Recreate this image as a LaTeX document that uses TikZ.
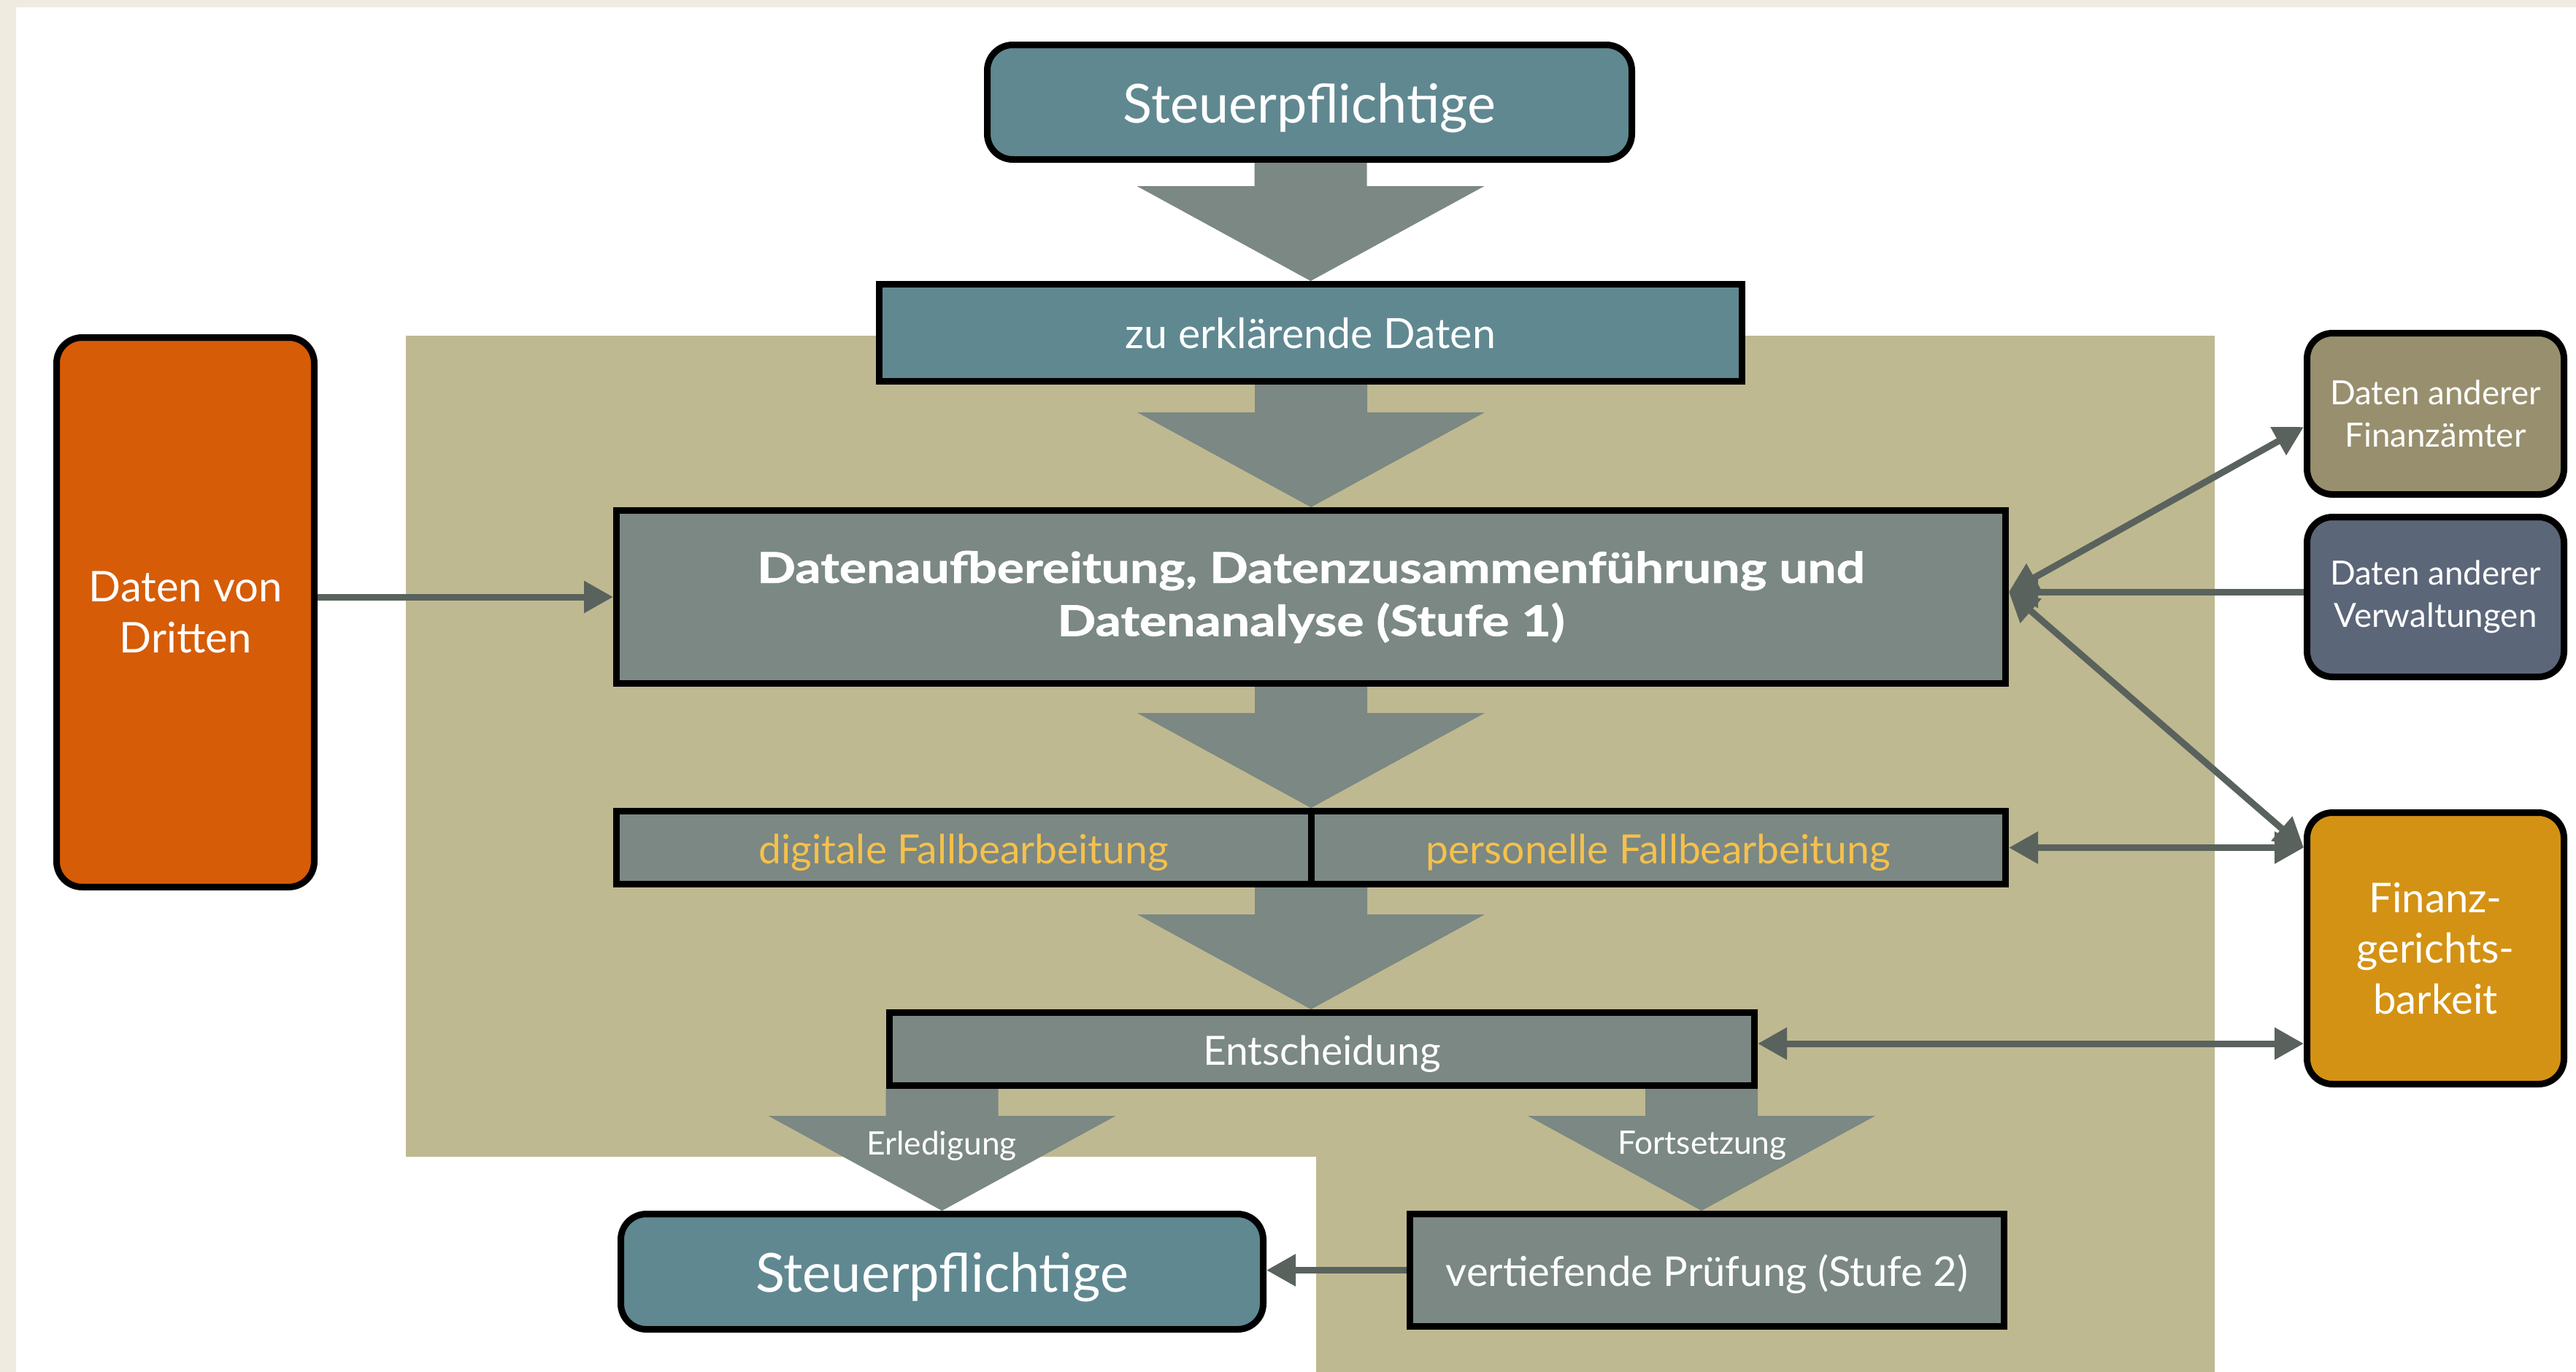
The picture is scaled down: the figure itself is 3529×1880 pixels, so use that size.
\documentclass[tikz,border=0pt]{standalone}
\usepackage{fontspec}
\setmainfont{Lato}
\newfontfamily\heavyfont[FakeStretch=1.2,FakeBold=1.2]{Lato}
\usetikzlibrary{arrows.meta,calc}

\definecolor{cCream}{RGB}{239,235,224}
\definecolor{cKhaki}{RGB}{191,185,145}
\definecolor{cTealBox}{RGB}{96,136,145}
\definecolor{cGrayBox}{RGB}{123,136,131}
\definecolor{cArrow}{RGB}{90,98,93}
\definecolor{cOrange}{RGB}{214,92,7}
\definecolor{cOlive}{RGB}{152,143,110}
\definecolor{cSlate}{RGB}{92,102,121}
\definecolor{cAmber}{RGB}{212,146,20}
\definecolor{cYellowText}{RGB}{245,192,76}

% wide grey block arrow from the bottom of one box to the top of the next
\newcommand\blockarrow[2]{%
  \path (#2 |- #1) coordinate (baS) (#2) coordinate (baT);
  \fill[cGrayBox] ($(baS)+(-77,0)$) -- ($(baT)+(-77,-130)$) -- ($(baT)+(-238,-130)$)
    -- (baT) -- ($(baT)+(238,-130)$) -- ($(baT)+(77,-130)$) -- ($(baS)+(77,0)$) -- cycle;}

\begin{document}
\begin{tikzpicture}[x=0.1mm,y=-0.1mm,
  box/.style={draw=black, line width=0.9mm, outer sep=0.45mm, inner sep=0pt,
    text=white, align=center},
  rbox/.style={box, rounded corners=3.5mm},
  bigtxt/.style={font=\fontsize{21}{25}\selectfont, text height=16pt, text depth=0pt},
  midtxt/.style={font=\fontsize{15.7}{19}\selectfont, text height=12.4pt, text depth=0pt},
  conn/.style={draw=cArrow, line width=0.9mm},
  >={Triangle[length=4mm,width=4.2mm]},
  lbl/.style={text=white, inner sep=0pt, font=\fontsize{12.6}{15}\selectfont}]

% canvas and background areas
\useasboundingbox (0,0) rectangle (3529,1880);
\fill[white] (0,0) rectangle (3529,1880);
\fill[cCream] (0,0) rectangle (22,1880);
\fill[cCream] (0,0) rectangle (3529,10);
\fill[cKhaki] (556,460) -- (3034,460) -- (3034,1880) -- (1803,1880)
  -- (1803,1585) -- (556,1585) -- cycle;

% boxes of the main flow
\node[rbox, bigtxt, fill=cTealBox, minimum width=88.3mm, minimum height=15.7mm]
  (st1) at (1794,140) {Steuerpflichtige};
\node[box, midtxt, fill=cTealBox, minimum width=118.2mm, minimum height=13.3mm,
  font=\fontsize{16.3}{19}\selectfont] (zed) at (1795.5,456) {zu erklärende Daten};
\node[box, fill=cGrayBox, minimum width=190.3mm, minimum height=23.7mm,
  font=\fontsize{16.5}{20.7}\selectfont\heavyfont\bfseries] (dab) at (1796,818)
  {Datenaufbereitung, Datenzusammenführung und\\Datenanalyse (Stufe 1)};
\node[box, midtxt, fill=cGrayBox, minimum width=95.15mm, minimum height=10mm,
  text=cYellowText] (dig) at (1320.25,1161.5) {digitale Fallbearbeitung};
\node[box, midtxt, fill=cGrayBox, minimum width=95.15mm, minimum height=10mm,
  text=cYellowText] (pers) at (2271.75,1161.5) {personelle Fallbearbeitung};
\node[box, midtxt, fill=cGrayBox, minimum width=118.5mm, minimum height=10mm]
  (ent) at (1811,1437.5) {Entscheidung};
\node[rbox, bigtxt, fill=cTealBox, minimum width=88mm, minimum height=15.8mm]
  (st2) at (1290.5,1742.5) {Steuerpflichtige};
\node[box, midtxt, fill=cGrayBox, minimum width=81.4mm, minimum height=15.4mm,
  font=\fontsize{16}{19}\selectfont] (vp) at (2338.5,1740.5)
  {vertiefende Prüfung (Stufe 2)};

% outside data sources and the fiscal courts
\node[rbox, fill=cOrange, minimum width=35.3mm, minimum height=75.3mm,
  font=\fontsize{16.5}{19.8}\selectfont] (ddr) at (254,839) {Daten von\\Dritten};
\node[rbox, fill=cOlive, minimum width=35.2mm, minimum height=22.1mm,
  font=\fontsize{13}{16.4}\selectfont] (dfa) at (3336.5,567)
  {Daten anderer\\Finanzämter};
\node[rbox, fill=cSlate, minimum width=35.2mm, minimum height=21.9mm,
  font=\fontsize{13}{16.4}\selectfont] (dvw) at (3336.5,818)
  {Daten anderer\\Verwaltungen};
\node[rbox, fill=cAmber, minimum width=35.2mm, minimum height=37.2mm,
  font=\fontsize{16}{19.8}\selectfont] (fgb) at (3336.5,1299.5)
  {Finanz-\\gerichts-\\barkeit};

% block arrows of the main flow
\blockarrow{st1.south}{zed.north}
\blockarrow{zed.south}{dab.north}
\path (dab.north |- dig.north) coordinate (rowN) (dab.north |- dig.south) coordinate (rowS)
  (dab.north |- ent.north) coordinate (entN) ([xshift=-0.75mm]vp.north) coordinate (vpN);
\blockarrow{dab.south}{rowN}
\blockarrow{rowS}{entN}
\blockarrow{ent.south}{st2.north}
\blockarrow{ent.south}{vpN}

\node[lbl] (erl) at (1290,1570) {Erledigung};
\node[lbl] (fort) at (2332,1570) {Fortsetzung};

% thin connectors
\coordinate (hub) at ([yshift=0.7mm]dab.east);
\draw[conn,->] (ddr.east |- dab.west) -- (dab.west);
\draw[conn,<->] (hub) -- ([yshift=-1.8mm]dfa.west);
\draw[conn,->] (dvw.west |- hub) -- (hub);
\draw[conn,<->] (hub) -- (pers.east -| fgb.west);
\draw[conn,<->] (pers.east) -- (pers.east -| fgb.west);
\draw[conn,<->] ([yshift=0.75mm]ent.east) -- ([yshift=0.75mm]ent.east -| fgb.west);
\draw[conn,->] (vp.west) -- (vp.west -| st2.east);
\end{tikzpicture}
\end{document}
